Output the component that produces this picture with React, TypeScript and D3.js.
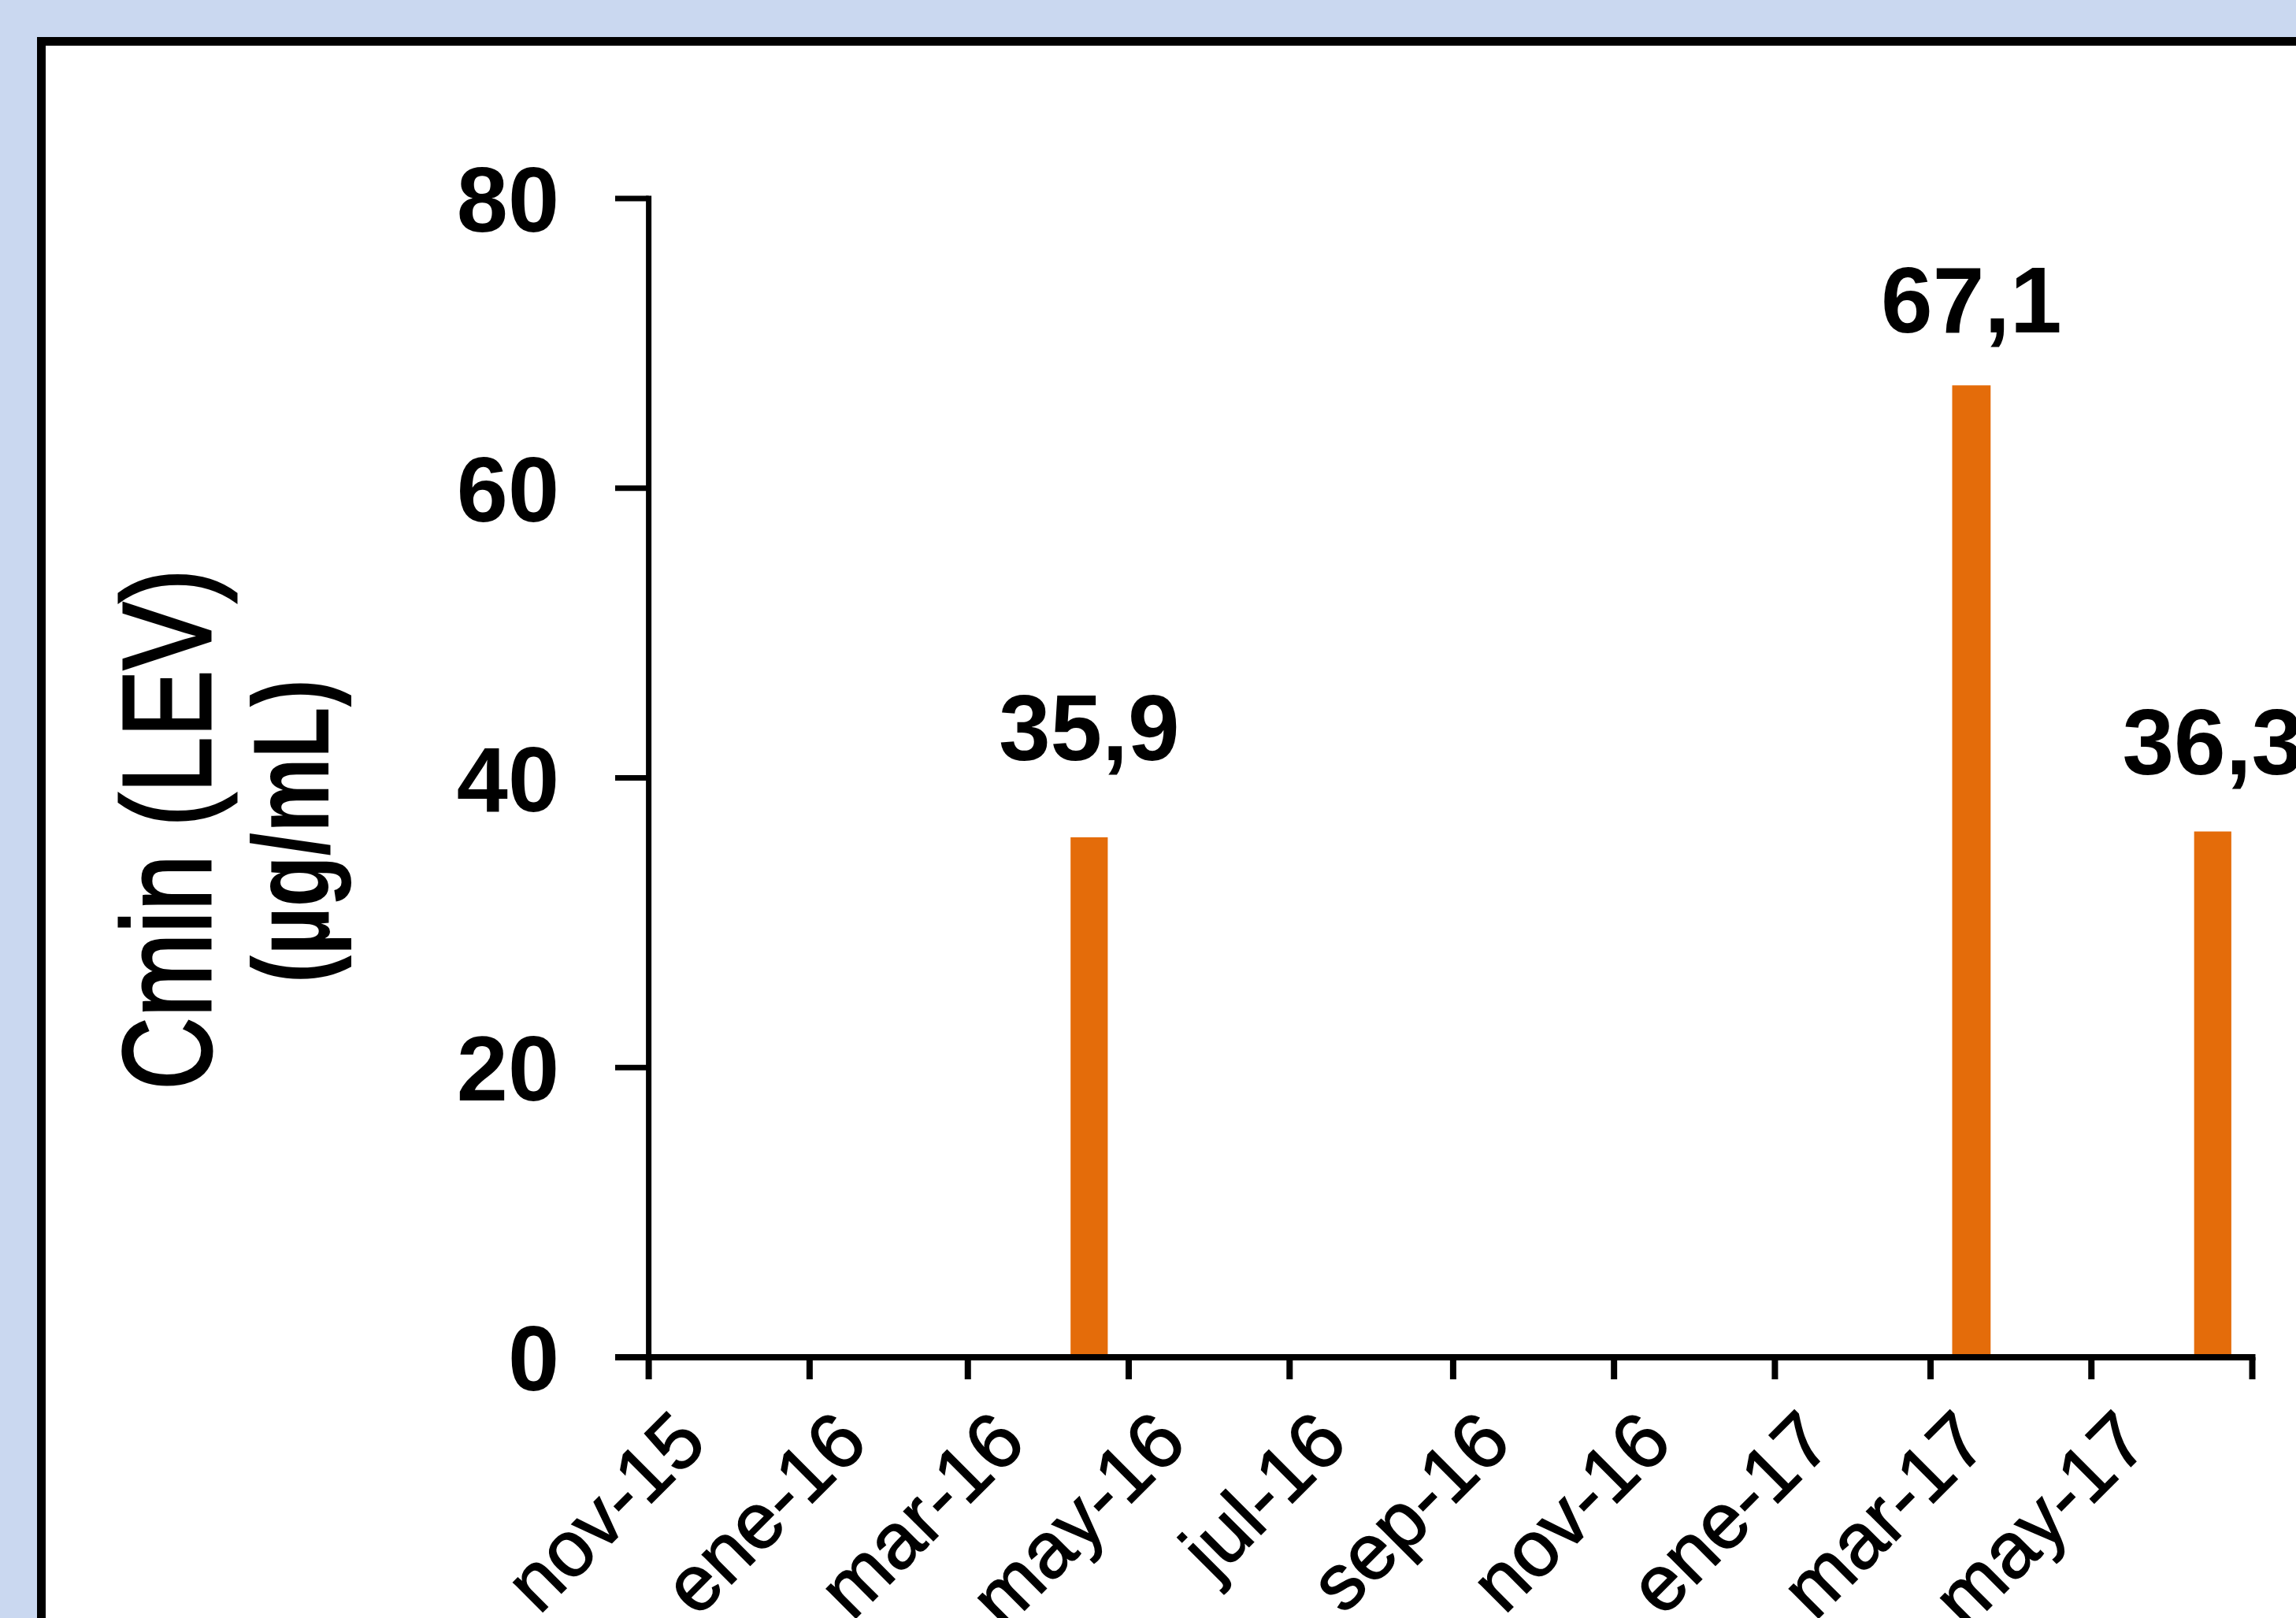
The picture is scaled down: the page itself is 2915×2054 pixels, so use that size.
import React from "react";
import * as d3 from "d3";

// ---- data ----
const barMonths = ["2016-04", "2017-03", "2017-06"];
const barValues = [35.9, 67.1, 36.3];
const xTickDates = [
  "2015-11-01", "2016-01-01", "2016-03-01", "2016-05-01", "2016-07-01", "2016-09-01",
  "2016-11-01", "2017-01-01", "2017-03-01", "2017-05-01", "2017-07-01",
];
const xTickLabels = [
  "nov-15", "ene-16", "mar-16", "may-16", "jul-16", "sep-16",
  "nov-16", "ene-17", "mar-17", "may-17",
];
const yTicks = [0, 20, 40, 60, 80];
const titleLine1 = "Cmin (LEV)";
const titleLine2 = "(µg/mL)";

const W = 2915;
const H = 2054;
const FONT = "'Liberation Sans', Arial, Helvetica, sans-serif";

const parseDay = (s: string) => new Date(s + "T00:00:00Z");
const parseMonth = (s: string) => new Date(s + "-01T00:00:00Z");

export default function App() {
  const x = d3
    .scaleUtc()
    .domain([parseDay(xTickDates[0]), parseDay(xTickDates[xTickDates.length - 1])])
    .range([823.6, 2859.5]);
  const y = d3.scaleLinear().domain([0, 80]).range([1723, 252]);

  const labelLift = [98, 67, 73];
  const fmt = (v: number) => v.toFixed(1).replace(".", ",");

  const bars = barMonths.map((m, i) => {
    const start = parseMonth(m);
    const end = d3.utcMonth.offset(start, 1);
    const x0 = x(start);
    const x1 = x(end);
    const cx = (x0 + x1) / 2;
    const bw = (x1 - x0) * 0.47;
    return { cx, bw, v: barValues[i], lift: labelLift[i] };
  });

  const axisY = y(0);
  const yAxisX = x.range()[0];

  return (
    <svg
      width={W}
      height={H}
      viewBox={`0 0 ${W} ${H}`}
      style={{ position: "absolute", left: 0, top: 0, display: "block" }}
      fontFamily={FONT}
    >
      <rect x={0} y={0} width={W} height={H} fill="#CAD8F0" />
      <rect x={52.5} y={52.5} width={W + 100} height={H + 100} fill="#FFFFFF" stroke="#000" strokeWidth={11} />

      {/* bars */}
      {bars.map((b, i) => (
        <rect key={i} x={b.cx - b.bw / 2} y={y(b.v)} width={b.bw} height={axisY - y(b.v)} fill="#E46C0A" />
      ))}
      {bars.map((b, i) => (
        <text key={"l" + i} x={b.cx} y={y(b.v) - b.lift} textAnchor="middle" fontSize={118} fontWeight="bold" fill="#000">
          {fmt(b.v)}
        </text>
      ))}

      {/* y axis */}
      <line x1={yAxisX} x2={yAxisX} y1={axisY + 4} y2={y(80) - 3.5} stroke="#000" strokeWidth={7} />
      {yTicks.map((t) => (
        <g key={t}>
          <line x1={781} x2={yAxisX} y1={y(t)} y2={y(t)} stroke="#000" strokeWidth={7} />
          <text x={710} y={y(t)} dy="0.36em" textAnchor="end" fontSize={117} fontWeight="bold" fill="#000">
            {t}
          </text>
        </g>
      ))}

      {/* x axis */}
      <line x1={781} x2={x.range()[1] + 4} y1={axisY} y2={axisY} stroke="#000" strokeWidth={8} />
      {xTickDates.map((d) => {
        const tx = x(parseDay(d));
        return <line key={d} x1={tx} x2={tx} y1={axisY} y2={1751} stroke="#000" strokeWidth={8} />;
      })}
      {xTickLabels.map((lab, i) => {
        const tx = x(parseDay(xTickDates[i]));
        return (
          <text
            key={lab}
            transform={`translate(${tx + 26},${1784}) rotate(-45)`}
            textAnchor="end"
            dy="0.72em"
            fontSize={100}
            fill="#000"
            stroke="#000"
            strokeWidth={1.5}
          >
            {lab}
          </text>
        );
      })}

      {/* y title */}
      <text
        transform={`translate(267,1053) rotate(-90) scale(0.8,1)`}
        textAnchor="middle"
        fontSize={160}
        fill="#000"
        stroke="#000"
        strokeWidth={3}
      >
        {titleLine1}
      </text>
      <text transform={`translate(417,1055) rotate(-90) scale(0.77,1)`} textAnchor="middle" fontSize={138} fontWeight="bold" fill="#000">
        {titleLine2}
      </text>
    </svg>
  );
}
